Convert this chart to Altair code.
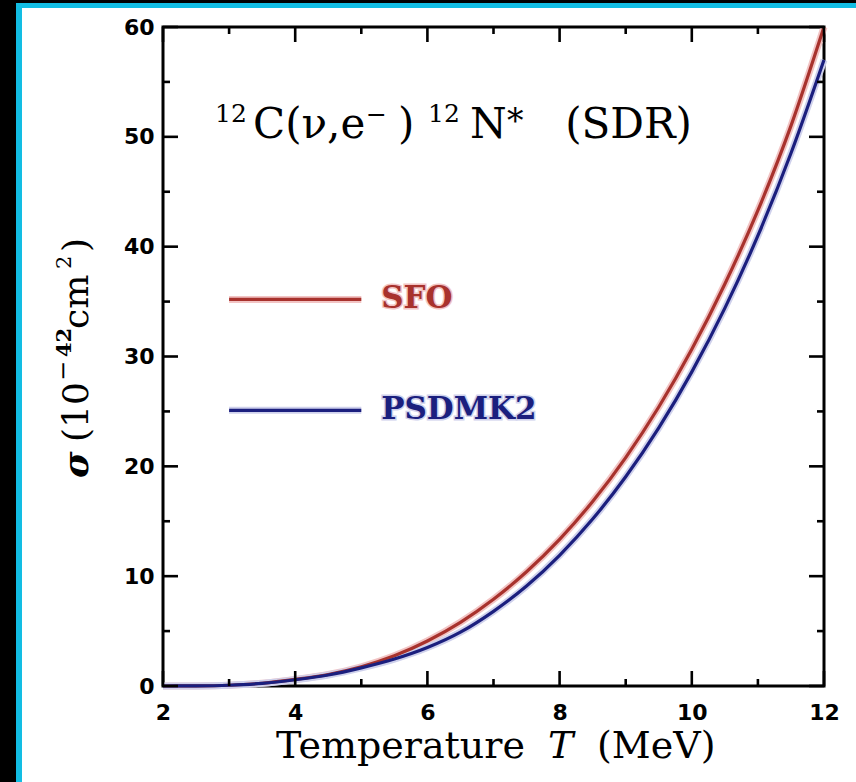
import altair as alt
import pandas as pd

# Temperature grid (MeV) and flux-averaged cross sections (10^-42 cm^2)
temperature = [2.0, 2.5, 3.0, 3.5, 4.0, 4.5, 5.0, 5.5, 6.0, 6.5, 7.0,
               7.5, 8.0, 8.5, 9.0, 9.5, 10.0, 10.5, 11.0, 11.5, 12.0]
sigma_sfo = [0.0, 0.01, 0.07, 0.25, 0.6, 1.05, 1.75, 2.75, 4.1, 5.8, 7.9,
             10.4, 13.35, 16.8, 20.8, 25.4, 30.65, 36.6, 43.3, 51.0, 60.0]
sigma_psdmk2 = [0.0, 0.01, 0.07, 0.24, 0.57, 1.0, 1.65, 2.45, 3.5, 4.9, 6.8,
                9.1, 11.9, 15.2, 19.05, 23.5, 28.6, 34.4, 41.0, 48.5, 57.0]
models = ["SFO", "PSDMK2"]
model_colors = ["#a8322d", "#1b1f7e"]
halo_colors = ["#f2c4c4", "#cfd1ec"]

# Axis ticks
x_major = [2, 4, 6, 8, 10, 12]
x_minor = [3, 5, 7, 9, 11]
y_major = [0, 10, 20, 30, 40, 50, 60]
y_minor = [5, 15, 25, 35, 45, 55]

# Legend placement (data coordinates)
legend_x0, legend_x1, legend_text_x = 3.0, 5.0, 5.3
legend_y = [35.2, 25.1]

W, H = 661, 659          # plot area
PAD_L, PAD_T = 163, 27   # plot origin inside the page
SERIF = "DejaVu Serif"

n = len(temperature)
curves = pd.DataFrame({
    "T": temperature * 2,
    "sigma": sigma_sfo + sigma_psdmk2,
    "model": [models[0]] * n + [models[1]] * n,
})
one = pd.DataFrame({"k": [0]})

xs = alt.Scale(domain=[2, 12], nice=False, zero=False)
ys = alt.Scale(domain=[0, 60], nice=False)
col = alt.Scale(domain=models, range=model_colors)
halo = alt.Scale(domain=models, range=halo_colors)

base = alt.Chart(curves)
halo_lines = base.mark_line(strokeWidth=7, interpolate="monotone").encode(
    x=alt.X("T:Q", scale=xs,
            axis=alt.Axis(values=x_major, format="d", labelPadding=16,
                          title=None)),
    y=alt.Y("sigma:Q", scale=ys,
            axis=alt.Axis(values=y_major, format="d", labelPadding=9,
                          title=None)),
    color=alt.Color("model:N", scale=halo, legend=None),
    detail="model:N",
)
lines = base.mark_line(strokeWidth=3.2, interpolate="monotone").encode(
    x=alt.X("T:Q", scale=xs),
    y=alt.Y("sigma:Q", scale=ys),
    stroke=alt.Stroke("model:N", scale=col, legend=None),
)


def ticks_x(values, length, top):
    df = pd.DataFrame({"T": values})
    y0 = 0 if top else H
    y1 = length if top else H - length
    return alt.Chart(df).mark_rule(strokeWidth=2.6, color="black").encode(
        x=alt.X("T:Q", scale=xs), y=alt.value(y0), y2=alt.value(y1))


def ticks_y(values, length, right):
    df = pd.DataFrame({"sigma": values})
    x0 = W if right else 0
    x1 = W - length if right else length
    return alt.Chart(df).mark_rule(strokeWidth=2.6, color="black").encode(
        y=alt.Y("sigma:Q", scale=ys), x=alt.value(x0), x2=alt.value(x1))


tick_layers = []
for top in (False, True):
    tick_layers.append(ticks_x(x_major, 15, top))
    tick_layers.append(ticks_x(x_minor, 7, top))
for right in (False, True):
    tick_layers.append(ticks_y(y_major, 15, right))
    tick_layers.append(ticks_y(y_minor, 7, right))


def label(text, x, y, size, font=SERIF, style="normal", weight="normal",
          angle=0, align="left", color="black"):
    # x, y are page pixels; converted to plot-area offsets
    return alt.Chart(one).mark_text(
        text=text, font=font, fontSize=size, fontStyle=style,
        fontWeight=weight, angle=angle, align=align,
        baseline="alphabetic", color=color,
    ).encode(x=alt.value(x - PAD_L), y=alt.value(y - PAD_T))


def block(x0, x1, y0, y1, color):
    return alt.Chart(one).mark_rect(color=color).encode(
        x=alt.value(x0 - PAD_L), x2=alt.value(x1 - PAD_L),
        y=alt.value(y0 - PAD_T), y2=alt.value(y1 - PAD_T))


frame = [
    block(0, 16, 0, 782, "black"),
    block(0, 856, 0, 3, "black"),
    block(16, 22, 3, 782, "#12bde3"),
    block(16, 856, 3, 8, "#12bde3"),
]

# Reaction label
title = [
    label("12", 215, 122, 25),
    label("C(ν,e", 253, 138, 42),
    label("−", 366, 123, 25),
    label(")", 398, 138, 42),
    label("12", 428, 122, 25),
    label("N", 470, 138, 42),
    label("*", 507, 132, 33),
    label("(SDR)", 692, 138, 42, align="right"),
]

# Axis titles
xtitle = [
    label("Temperature", 276, 758, 38),
    label("T", 548, 758, 38, style="italic"),
    label("(MeV)", 597, 758, 38),
]
ytitle = [
    label("σ", 88, 478, 36, style="italic", weight="bold", angle=270),
    label("(10", 88, 442, 36, angle=270),
    label("−", 71, 381, 24, angle=270),
    label("42", 71, 357, 21, weight="bold", angle=270),
    label("cm", 88, 329, 36, angle=270),
    label("2", 71, 269, 21, angle=270),
    label(")", 88, 252, 36, angle=270),
]

# Legend
legend_layers = []
for m, c, h, yv in zip(models, model_colors, halo_colors, legend_y):
    legend_layers.append(alt.Chart(one).mark_rule(strokeWidth=7, color=h).encode(
        x=alt.datum(legend_x0), x2=alt.datum(legend_x1), y=alt.datum(yv)))
    legend_layers.append(alt.Chart(one).mark_rule(strokeWidth=3.2, color=c).encode(
        x=alt.datum(legend_x0), x2=alt.datum(legend_x1), y=alt.datum(yv)))
    legend_layers.append(alt.Chart(one).mark_text(
        text=m, font=SERIF, fontSize=31, fontWeight="bold", color=h,
        stroke=h, strokeWidth=3, align="left", baseline="middle").encode(
        x=alt.datum(legend_text_x), y=alt.datum(yv)))
    legend_layers.append(alt.Chart(one).mark_text(
        text=m, font=SERIF, fontSize=31, fontWeight="bold", color=c,
        align="left", baseline="middle").encode(
        x=alt.datum(legend_text_x), y=alt.datum(yv)))

chart = alt.layer(
    *frame, halo_lines, lines, *tick_layers, *legend_layers,
    *title, *xtitle, *ytitle,
).resolve_scale(color="independent").properties(
    width=W, height=H,
    padding={"left": PAD_L, "top": PAD_T, "right": 856 - PAD_L - W,
             "bottom": 782 - PAD_T - H},
    autosize=alt.AutoSizeParams(type="none"),
    background="white",
).configure_view(
    stroke="black", strokeWidth=3,
).configure_axis(
    labelFont="DejaVu Sans", labelFontWeight="bold", labelFontSize=22,
    labelColor="black", ticks=False, tickSize=0, domain=False, grid=False,
    labelFlush=False, labelOverlap=False,
)

chart.save("out.html", embed_options={"renderer": "svg", "actions": False})
